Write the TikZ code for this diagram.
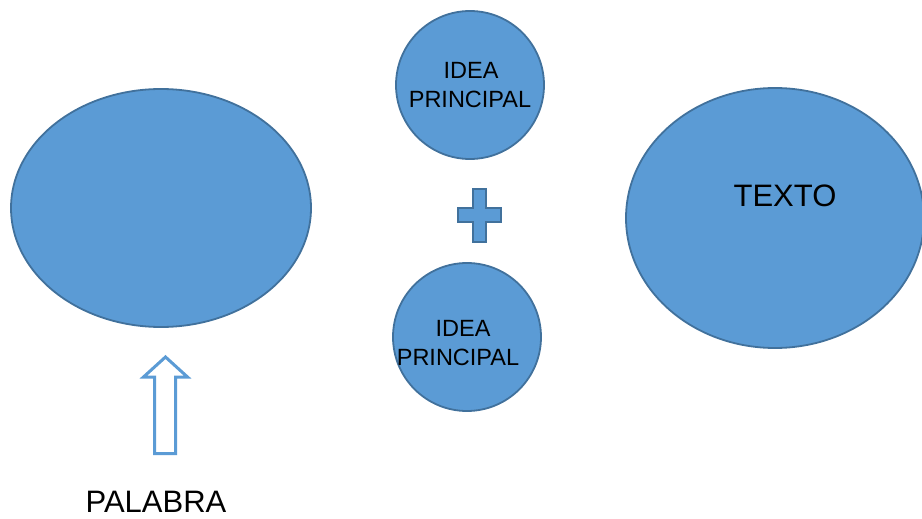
\documentclass[tikz,border=0pt]{standalone}
\usepackage{fontspec}
\setmainfont{Liberation Sans}
\usetikzlibrary{shapes.geometric}
\definecolor{blfill}{HTML}{5B9BD5}
\definecolor{bldraw}{HTML}{41719C}
\begin{document}
\begin{tikzpicture}[x=1pt,y=-1pt,
  blob/.style={ellipse,fill=blfill,draw=bldraw,line width=1.8pt,inner sep=0pt},
  lbl/.style={anchor=base,inner sep=0pt,text=black}]
\useasboundingbox (0,0) rectangle (922,519);
\clip (0,0) rectangle (922,519);
% shapes
\node[blob,minimum width=300pt,minimum height=238pt] (left) at (161,208) {};
\node[blob,minimum width=148pt,minimum height=148pt] (top) at (470,85) {};
\node[blob,minimum width=148pt,minimum height=148pt] (bottom) at (467,337) {};
\node[blob,minimum width=298pt,minimum height=260pt] (right) at (775,218) {};
% plus sign
\draw[fill=blfill,draw=bldraw,line width=1.8pt]
  (473,189) -- (486,189) -- (486,208) -- (501,208) -- (501,222) -- (486,222)
  -- (486,242) -- (473,242) -- (473,222) -- (458,222) -- (458,208) -- (473,208) -- cycle;
% hollow arrow
\draw[fill=white,draw=blfill,line width=3pt,line join=miter]
  (165.5,357) -- (187.5,377) -- (175.5,377) -- (175.5,453.5) -- (154.5,453.5)
  -- (154.5,377) -- (143.5,377) -- cycle;
% texts
\node[lbl,font=\fontsize{23.5}{28}\selectfont] (t1) at (471,79) {IDEA};
\node[lbl,font=\fontsize{23.5}{28}\selectfont] (t2) at (470,108) {PRINCIPAL};
\node[lbl,font=\fontsize{23.5}{28}\selectfont] (b1) at (463,336) {IDEA};
\node[lbl,font=\fontsize{23.5}{28}\selectfont] (b2) at (458,365) {PRINCIPAL};
\node[lbl,font=\fontsize{31}{36}\selectfont] (tx) at (785,206) {TEXTO};
\node[lbl,font=\fontsize{31}{36}\selectfont] (pal) at (156,512) {PALABRA};
\end{tikzpicture}
\end{document}
